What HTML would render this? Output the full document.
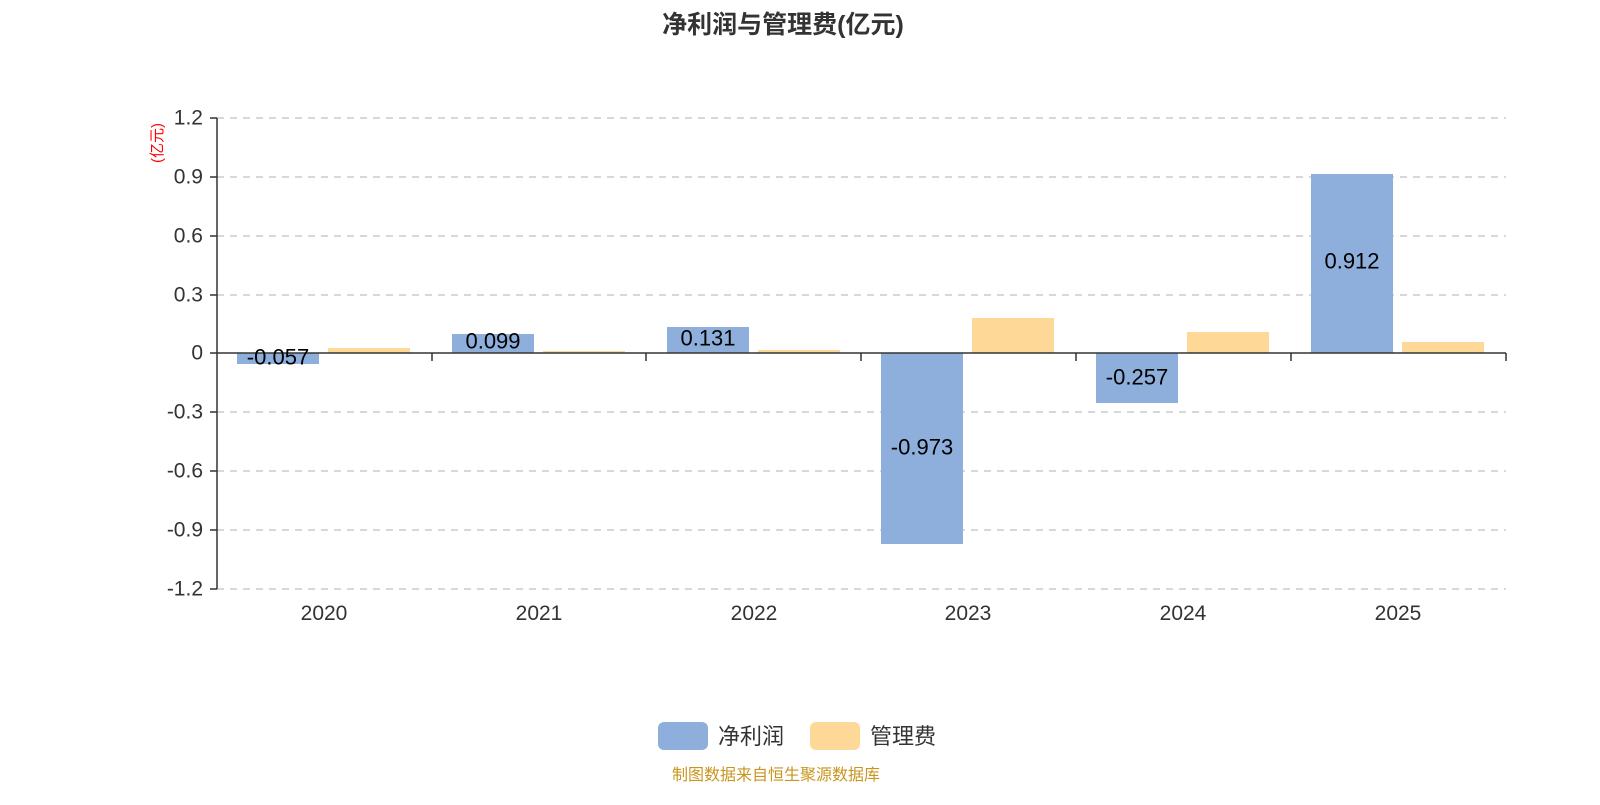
<!DOCTYPE html>
<html><head><meta charset="utf-8"><style>
body{margin:0;background:#fff;}
svg text{font-family:"Liberation Sans","Noto Sans CJK SC",sans-serif;}
</style></head><body>
<svg width="1600" height="800" xmlns="http://www.w3.org/2000/svg">
<text x="783" y="33" text-anchor="middle" font-size="25" font-weight="bold" fill="#333">净利润与管理费(亿元)</text>
<text transform="translate(162,143) rotate(-90)" text-anchor="middle" font-size="15" fill="#f00">(亿元)</text>
<g stroke="#ccc" stroke-dasharray="7,6" stroke-width="1.5">
<line x1="217" x2="1506" y1="118" y2="118"/><line x1="217" x2="1506" y1="177" y2="177"/>
<line x1="217" x2="1506" y1="236" y2="236"/><line x1="217" x2="1506" y1="295" y2="295"/>
<line x1="217" x2="1506" y1="412" y2="412"/><line x1="217" x2="1506" y1="471" y2="471"/>
<line x1="217" x2="1506" y1="530" y2="530"/><line x1="217" x2="1506" y1="589" y2="589"/>
</g>
<g font-size="21" fill="#333" text-anchor="end" dominant-baseline="central">
<text x="203" y="118">1.2</text><text x="203" y="177">0.9</text><text x="203" y="236">0.6</text><text x="203" y="295">0.3</text><text x="203" y="353">0</text><text x="203" y="412">-0.3</text><text x="203" y="471">-0.6</text><text x="203" y="530">-0.9</text><text x="203" y="589">-1.2</text>
</g>
<g fill="#8eaedb">
<rect x="237" y="353" width="82" height="11"/>
<rect x="452" y="334" width="82" height="19"/>
<rect x="667" y="327" width="82" height="26"/>
<rect x="881" y="353" width="82" height="191"/>
<rect x="1096" y="353" width="82" height="50"/>
<rect x="1311" y="174" width="82" height="179"/>
</g>
<g fill="#fed897">
<rect x="328" y="348" width="82" height="5"/>
<rect x="543" y="351" width="82" height="2"/>
<rect x="758" y="350" width="82" height="3"/>
<rect x="972" y="318" width="82" height="35"/>
<rect x="1187" y="332" width="82" height="21"/>
<rect x="1402" y="342" width="82" height="11"/>
</g>
<g stroke="#333" stroke-width="1.5">
<line x1="217" y1="118" x2="217" y2="589"/>
<line x1="210" y1="118" x2="217" y2="118"/><line x1="210" y1="177" x2="217" y2="177"/><line x1="210" y1="236" x2="217" y2="236"/><line x1="210" y1="295" x2="217" y2="295"/><line x1="210" y1="353" x2="217" y2="353"/><line x1="210" y1="412" x2="217" y2="412"/><line x1="210" y1="471" x2="217" y2="471"/><line x1="210" y1="530" x2="217" y2="530"/><line x1="210" y1="589" x2="217" y2="589"/>
<line x1="217" y1="353" x2="1506" y2="353"/>
<line x1="432" y1="353" x2="432" y2="361"/><line x1="646" y1="353" x2="646" y2="361"/><line x1="861" y1="353" x2="861" y2="361"/><line x1="1076" y1="353" x2="1076" y2="361"/><line x1="1291" y1="353" x2="1291" y2="361"/><line x1="1506" y1="353" x2="1506" y2="361"/>
</g>
<g font-size="22" fill="#000" text-anchor="middle" dominant-baseline="central">
<text x="278" y="357">-0.057</text>
<text x="493" y="341">0.099</text>
<text x="708" y="338">0.131</text>
<text x="922" y="447">-0.973</text>
<text x="1137" y="377">-0.257</text>
<text x="1352" y="261">0.912</text>
</g>
<g font-size="21" fill="#333" text-anchor="middle">
<text x="324" y="620">2020</text><text x="539" y="620">2021</text><text x="754" y="620">2022</text><text x="968" y="620">2023</text><text x="1183" y="620">2024</text><text x="1398" y="620">2025</text>
</g>
<rect x="658" y="722" width="50" height="28" rx="6" fill="#8eaedb"/>
<text x="718" y="744" font-size="22" fill="#333">净利润</text>
<rect x="810" y="722" width="50" height="28" rx="6" fill="#fed897"/>
<text x="870" y="744" font-size="22" fill="#333">管理费</text>
<text x="776" y="780" text-anchor="middle" font-size="16" fill="#c8961e">制图数据来自恒生聚源数据库</text>
</svg>
</body></html>
